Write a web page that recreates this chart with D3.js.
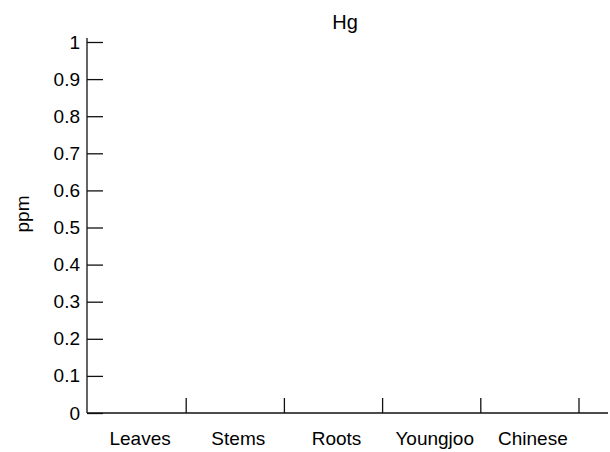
<!DOCTYPE html>
<html>
<head>
<meta charset="utf-8">
<script src="https://cdn.jsdelivr.net/npm/d3@7"></script>
<style>
  body { margin: 0; background: #fff; }
  text { font-family: "Liberation Sans", Arial, sans-serif; fill: #000; }
  .axis path, .axis line { stroke: #111; stroke-width: 1.3; }
</style>
</head>
<body>
<svg width="610" height="452"></svg>
<script>
// data
var categories = ["Leaves", "Stems", "Roots", "Youngjoo", "Chinese"];
var values = [0, 0, 0, 0, 0]; // Hg in ppm, nothing visible above zero
var yTicks = [0, 0.1, 0.2, 0.3, 0.4, 0.5, 0.6, 0.7, 0.8, 0.9, 1];

var svg = d3.select("svg"),
    margin = { top: 42, right: 2, bottom: 39, left: 87 },
    width = +svg.attr("width") - margin.left - margin.right,
    height = +svg.attr("height") - margin.top - margin.bottom;

var x = d3.scaleBand().domain(categories).range([1, 492]),
    y = d3.scaleLinear().domain([0, 1]).range([height, 0]);

var g = svg.append("g")
    .attr("transform", "translate(" + margin.left + "," + margin.top + ")");

// y-as, ticks naar binnen
var yAxis = g.append("g")
    .attr("class", "axis axis--y")
    .call(d3.axisRight(y).tickValues(yTicks).tickSize(16).tickFormat(d3.format("")));
yAxis.attr("font-size", null).attr("font-family", null);
yAxis.select(".domain").remove();
yAxis.append("line").attr("x1", 0).attr("x2", 0).attr("y1", y(1) - 4).attr("y2", height);
yAxis.selectAll("text")
    .attr("x", -7)
    .attr("text-anchor", "end")
    .style("font-size", "19px")
    .attr("fill", "#000");

// x-as met scheidingsstreepjes
var xAxis = g.append("g")
    .attr("class", "axis axis--x")
    .attr("transform", "translate(0," + height + ")");
xAxis.append("line").attr("x1", 0).attr("x2", width).attr("y1", 0).attr("y2", 0);
xAxis.selectAll(".sep")
    .data(categories)
    .enter().append("line")
    .attr("class", "sep")
    .attr("x1", function(d) { return x(d) + x.bandwidth(); })
    .attr("x2", function(d) { return x(d) + x.bandwidth(); })
    .attr("y1", 0)
    .attr("y2", -15);
xAxis.selectAll(".lab")
    .data(categories)
    .enter().append("text")
    .attr("class", "lab")
    .attr("x", function(d) { return x(d) + x.bandwidth() / 2 + 3; })
    .attr("y", 32)
    .attr("text-anchor", "middle")
    .style("font-size", "19px")
    .text(function(d) { return d; });

// balken (allemaal nul)
g.selectAll(".bar")
    .data(values)
    .enter().append("rect")
    .attr("class", "bar")
    .attr("x", function(d, i) { return x(categories[i]) + x.bandwidth() * 0.2; })
    .attr("width", x.bandwidth() * 0.6)
    .attr("y", function(d) { return y(d); })
    .attr("height", function(d) { return height - y(d); })
    .attr("fill", "#333");

// titel en as-label
svg.append("text")
    .attr("x", 345)
    .attr("y", 29)
    .attr("text-anchor", "middle")
    .style("font-size", "20px")
    .text("Hg");

svg.append("text")
    .attr("transform", "translate(29,214) rotate(-90)")
    .attr("text-anchor", "middle")
    .style("font-size", "19px")
    .text("ppm");
</script>
</body>
</html>
